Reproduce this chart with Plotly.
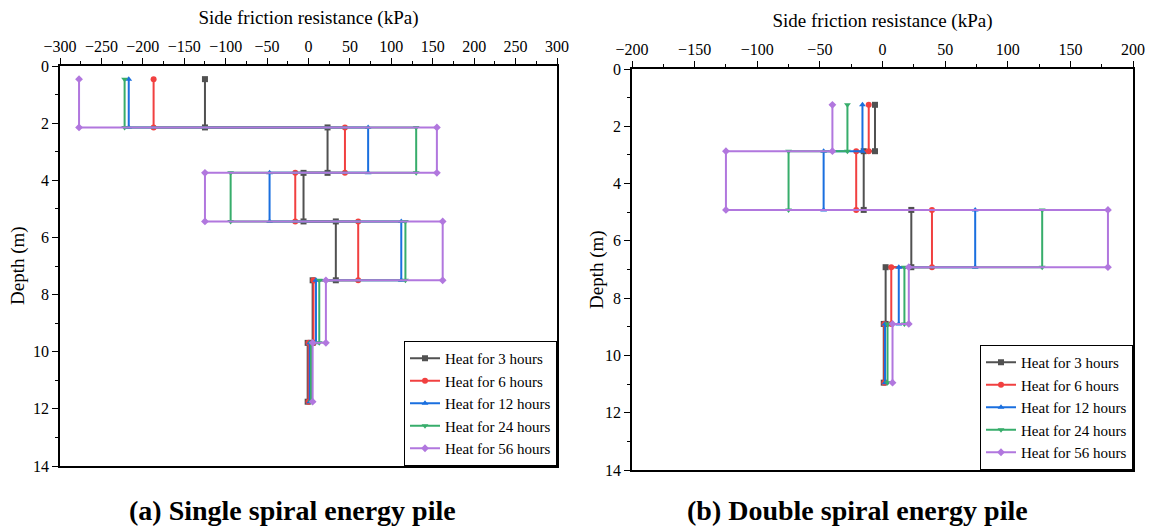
import plotly.graph_objects as go

# ---- data ----
legend_labels = ["Heat for 3 hours", "Heat for 6 hours", "Heat for 12 hours",
                 "Heat for 24 hours", "Heat for 56 hours"]

# (a) Single spiral energy pile: segment boundary depths (m)
depths_a = [0.46, 2.15, 3.74, 5.44, 7.5, 9.69, 11.75]
a_3h = [-125, 23, -6, 33, 5, -1]
a_6h = [-187, 44, -16, 60, 6, 0]
a_12h = [-217, 72, -47, 112, 9, 1.5]
a_24h = [-222, 130, -94, 117, 13, 3]
a_56h = [-277, 155, -125, 162, 21, 5]

# (b) Double spiral energy pile
depths_b = [1.25, 2.87, 4.92, 6.92, 8.9, 10.95]
b_3h = [-6, -15, 23, 2.5, 1]
b_6h = [-11, -21, 39.5, 7, 1.5]
b_12h = [-16, -47, 74, 13, 2]
b_24h = [-28, -75, 127.5, 17.5, 4]
b_56h = [-40, -125, 180, 21, 8]

x_ticks_a = [-300, -250, -200, -150, -100, -50, 0, 50, 100, 150, 200, 250, 300]
x_ticks_b = [-200, -150, -100, -50, 0, 50, 100, 150, 200]
y_ticks = [0, 2, 4, 6, 8, 10, 12, 14]

colors = ["#515151", "#F14040", "#1A6FDF", "#37AD6B", "#B177DE"]
symbols = ["square", "circle", "triangle-up", "triangle-down", "diamond"]

FONT = "Times New Roman, Liberation Serif, serif"


def step_profile(depths, values):
    xs, ys = [], []
    for i, v in enumerate(values):
        xs += [v, v]
        ys += [depths[i], depths[i + 1]]
    return xs, ys


fig = go.Figure()

for vals, lab, c, s in zip([a_3h, a_6h, a_12h, a_24h, a_56h],
                           legend_labels, colors, symbols):
    xs, ys = step_profile(depths_a, vals)
    fig.add_trace(go.Scatter(x=xs, y=ys, mode="lines+markers", name=lab,
                             line=dict(color=c, width=2),
                             marker=dict(symbol=s, size=6, color=c),
                             xaxis="x", yaxis="y", legend="legend"))

for vals, lab, c, s in zip([b_3h, b_6h, b_12h, b_24h, b_56h],
                           legend_labels, colors, symbols):
    xs, ys = step_profile(depths_b, vals)
    fig.add_trace(go.Scatter(x=xs, y=ys, mode="lines+markers", name=lab,
                             line=dict(color=c, width=2),
                             marker=dict(symbol=s, size=6, color=c),
                             xaxis="x2", yaxis="y2", legend="legend2"))

W, H = 1151, 532


def px(x):
    return x / W


def py(y):
    return 1 - y / H


axis_common = dict(showline=True, linecolor="black", linewidth=1.5, mirror=True,
                   ticks="outside", ticklen=6, tickwidth=1.2, tickcolor="black",
                   showgrid=False, zeroline=False, automargin=False,
                   ticklabeloverflow="allow",
                   tickfont=dict(family=FONT, size=16, color="black"),
                   title_font=dict(family=FONT, size=19, color="black"))

ann_common = dict(xref="paper", yref="paper", showarrow=False,
                  xanchor="center", yanchor="middle")

fig.update_layout(
    width=W, height=H,
    margin=dict(l=0, r=0, t=0, b=0),
    paper_bgcolor="white", plot_bgcolor="white",
    font=dict(family=FONT, color="black"),
    xaxis=dict(domain=[px(60), px(557)], range=[-300, 300], side="top",
               tickvals=x_ticks_a, anchor="y",
               minor=dict(dtick=25, ticks="outside", ticklen=3, tickcolor="black"),
               title=dict(text="Side friction resistance (kPa)", standoff=8),
               **axis_common),
    yaxis=dict(domain=[py(466), py(66)], range=[14, 0], tickvals=y_ticks,
               anchor="x",
               minor=dict(dtick=1, ticks="outside", ticklen=3, tickcolor="black"),
               **axis_common),
    xaxis2=dict(domain=[px(632), px(1133)], range=[-200, 200], side="top",
                tickvals=x_ticks_b, anchor="y2",
                minor=dict(dtick=25, ticks="outside", ticklen=3, tickcolor="black"),
                title=dict(text="Side friction resistance (kPa)", standoff=8),
                **axis_common),
    yaxis2=dict(domain=[py(470), py(69)], range=[14, 0], tickvals=y_ticks,
                anchor="x2",
                minor=dict(dtick=1, ticks="outside", ticklen=3, tickcolor="black"),
                **axis_common),
    legend=dict(x=px(557), y=py(466), xanchor="right", yanchor="bottom",
                bordercolor="black", borderwidth=1, bgcolor="white",
                font=dict(family=FONT, size=15, color="black"),
                tracegroupgap=0, itemwidth=30),
    legend2=dict(x=px(1133), y=py(470), xanchor="right", yanchor="bottom",
                 bordercolor="black", borderwidth=1, bgcolor="white",
                 font=dict(family=FONT, size=15, color="black"),
                 tracegroupgap=0, itemwidth=30),
    annotations=[
        dict(text="Depth (m)", x=px(18), y=py(266), textangle=-90,
             font=dict(family=FONT, size=19, color="black"), **ann_common),
        dict(text="Depth (m)", x=px(597), y=py(270), textangle=-90,
             font=dict(family=FONT, size=19, color="black"), **ann_common),
        dict(text="<b>(a) Single spiral energy pile</b>", x=px(292), y=py(510),
             font=dict(family=FONT, size=28, color="black"), **ann_common),
        dict(text="<b>(b) Double spiral energy pile</b>", x=px(857), y=py(510),
             font=dict(family=FONT, size=28, color="black"), **ann_common),
    ],
)

fig.write_html("out.html",
               config={"displayModeBar": False},
               post_script="document.body.style.margin='0px';"
                           "document.body.style.overflow='hidden';")
